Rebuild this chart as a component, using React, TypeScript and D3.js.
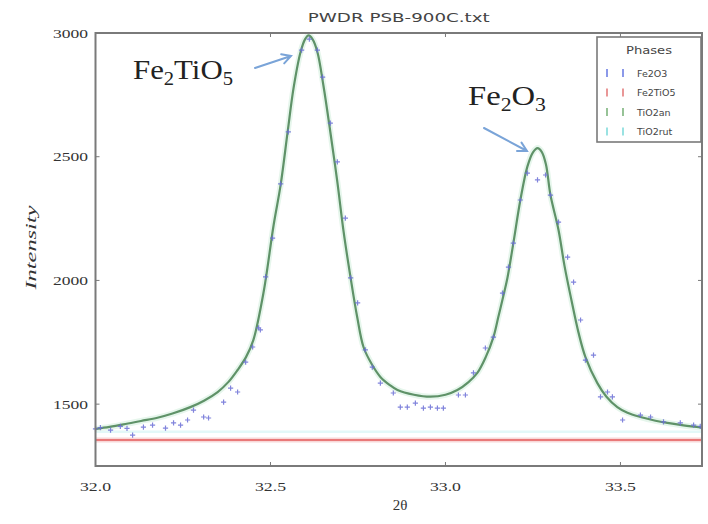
import React from "react";
import * as d3 from "d3";

// Calculated profile: [2θ, intensity]
const calcTheta = [
  32.0, 32.04, 32.08, 32.13, 32.177, 32.22, 32.271, 32.31, 32.349, 32.38, 32.406, 32.43,
  32.451, 32.48, 32.509, 32.529, 32.549, 32.566, 32.586, 32.599, 32.609, 32.62, 32.634,
  32.651, 32.671, 32.691, 32.709, 32.729, 32.748, 32.766, 32.79, 32.814, 32.84, 32.863,
  32.91, 32.957, 33.0, 33.034, 33.065, 33.091, 33.115, 33.137, 33.151, 33.165, 33.177,
  33.194, 33.214, 33.234, 33.25, 33.263, 33.275, 33.287, 33.3, 33.323, 33.34, 33.36,
  33.38, 33.4, 33.434, 33.46, 33.491, 33.52, 33.557, 33.6, 33.634, 33.68, 33.735,
];
const calcIntensity = [
  1400, 1408, 1418, 1432, 1445, 1462, 1488, 1514, 1549, 1590, 1638, 1690,
  1759, 1950, 2224, 2386, 2600, 2778, 2923, 2975, 2990, 2975, 2923,
  2790, 2600, 2398, 2196, 2010, 1850, 1730, 1660, 1610, 1578, 1557,
  1538, 1530, 1538, 1557, 1588, 1626, 1690, 1771, 1852, 1935, 2010,
  2151, 2325, 2460, 2518, 2535, 2520, 2470, 2345, 2204, 2060, 1920,
  1790, 1690, 1585, 1530, 1488, 1465, 1448, 1433, 1424, 1414, 1405,
];

// Observed counts: [2θ, intensity]
const obsTheta = [
  32.0, 32.014, 32.043, 32.071, 32.09, 32.106, 32.137, 32.163, 32.2, 32.223, 32.243,
  32.263, 32.28, 32.309, 32.323, 32.366, 32.386, 32.406, 32.429, 32.449, 32.466, 32.471,
  32.486, 32.506, 32.529, 32.551, 32.589, 32.611, 32.634, 32.649, 32.671, 32.691, 32.714,
  32.729, 32.749, 32.771, 32.791, 32.814, 32.851, 32.871, 32.891, 32.914, 32.937, 32.957,
  32.977, 32.994, 33.037, 33.057, 33.08, 33.114, 33.137, 33.163, 33.18, 33.194, 33.214,
  33.234, 33.263, 33.286, 33.3, 33.323, 33.349, 33.366, 33.386, 33.4, 33.423, 33.443,
  33.463, 33.477, 33.506, 33.557, 33.586, 33.623, 33.671, 33.709, 33.728,
];
const obsIntensity = [
  1400, 1405, 1395, 1410, 1402, 1375, 1407, 1415, 1403, 1424, 1415,
  1436, 1476, 1448, 1444, 1508, 1565, 1549, 1670, 1731, 1808, 1800,
  2014, 2171, 2390, 2600, 2931, 2975, 2931, 2822, 2636, 2479, 2252,
  2010, 1909, 1719, 1650, 1585, 1545, 1488, 1488, 1504, 1484, 1488,
  1484, 1484, 1537, 1537, 1626, 1727, 1771, 1949, 2054, 2151, 2325,
  2434, 2406, 2426, 2345, 2236, 2094, 1993, 1840, 1678, 1698, 1529,
  1549, 1529, 1436, 1456, 1448, 1428, 1424, 1415, 1410,
];

// Fitted background level and the faint reference level above it
const backgroundLevel = [1355];
const referenceLevel = [1388];

const xTicks = [32.0, 32.5, 33.0, 33.5];
const yTicks = [1500, 2000, 2500, 3000];

const phaseNames = ["Fe2O3", "Fe2TiO5", "TiO2an", "TiO2rut"];
const phaseColors = ["#5a6ee0", "#e06a6a", "#6aa96a", "#6fd6d6"];

const W = 708;
const H = 524;
const left = 95.5;
const right = 702;
const top = 33;
const bottom = 466;

export default function App() {
  const x = d3.scaleLinear().domain([32.0, 33.733]).range([left, right]);
  const y = d3.scaleLinear().domain([1250, 3000]).range([bottom, top]);

  const calc = calcTheta.map((t, i) => [t, calcIntensity[i]] as [number, number]);
  const obs = obsTheta.map((t, i) => [t, obsIntensity[i]] as [number, number]);

  const line = d3
    .line<[number, number]>()
    .x((d) => x(d[0]))
    .y((d) => y(d[1]))
    .curve(d3.curveCatmullRom.alpha(0.5));

  const plus = obs
    .map(([t, v]) => {
      const cx = x(t);
      const cy = y(v);
      const s = 2.6;
      return `M${cx - s},${cy}H${cx + s}M${cx},${cy - s}V${cy + s}`;
    })
    .join("");

  const frame = "#7a7a7a";
  const tickLen = 4;
  const serif = "'Liberation Serif', 'DejaVu Serif', serif";
  const sans = "'DejaVu Sans', 'Liberation Sans', sans-serif";

  const arrowHead = (x1: number, y1: number, x2: number, y2: number) => {
    const a = Math.atan2(y2 - y1, x2 - x1);
    const L = 10;
    const sp = 0.5;
    const p1 = [x2 - L * Math.cos(a - sp), y2 - L * Math.sin(a - sp)];
    const p2 = [x2 - L * Math.cos(a + sp), y2 - L * Math.sin(a + sp)];
    return `M${x1},${y1}L${x2},${y2}M${p1[0]},${p1[1]}L${x2},${y2}L${p2[0]},${p2[1]}`;
  };

  return (
    <div style={{ position: "fixed", left: 0, top: 0, width: W, height: H, background: "#fff" }}>
      <svg width={W} height={H} viewBox={`0 0 ${W} ${H}`} style={{ display: "block" }}>
        <rect x={0} y={0} width={W} height={H} fill="#fff" />

        {/* title */}
        <text
          x={(left + right) / 2}
          y={22}
          textAnchor="middle"
          fontFamily={sans}
          fontSize={13}
          fill="#444"
          textLength={182}
          lengthAdjust="spacingAndGlyphs"
        >
          PWDR PSB-900C.txt
        </text>

        {/* level lines */}
        {referenceLevel.map((v, i) => (
          <line key={"r" + i} x1={left} x2={right} y1={y(v)} y2={y(v)} stroke="#e3f8f8" strokeWidth={2.5} />
        ))}
        {backgroundLevel.map((v, i) => (
          <g key={"b" + i}>
            <line x1={left} x2={right} y1={y(v)} y2={y(v)} stroke="#f8d8d8" strokeWidth={5} />
            <line x1={left} x2={right} y1={y(v)} y2={y(v)} stroke="#e45a5a" strokeWidth={1.6} />
          </g>
        ))}

        {/* calculated profile */}
        <path d={line(calc) || ""} fill="none" stroke="#e6f6ec" strokeWidth={6} />
        <path d={line(calc) || ""} fill="none" stroke="#5f9268" strokeWidth={2.2} />

        {/* observed points */}
        <path d={plus} fill="none" stroke="#6b6fd6" strokeWidth={1.2} opacity={0.85} />

        {/* frame */}
        <rect x={left} y={top} width={right - left} height={bottom - top} fill="none" stroke={frame} strokeWidth={2} />

        {/* ticks and tick labels */}
        {xTicks.map((t) => (
          <g key={"x" + t}>
            <line x1={x(t)} x2={x(t)} y1={bottom} y2={bottom - tickLen} stroke={frame} strokeWidth={1} />
            <line x1={x(t)} x2={x(t)} y1={top} y2={top + tickLen} stroke={frame} strokeWidth={1} />
            <text
              x={x(t)}
              y={491}
              textAnchor="middle"
              fontFamily={serif}
              fontSize={13}
              fill="#333"
              textLength={31}
              lengthAdjust="spacingAndGlyphs"
            >
              {d3.format(".1f")(t)}
            </text>
          </g>
        ))}
        {yTicks.map((v) => (
          <g key={"y" + v}>
            <line x1={left} x2={left + tickLen} y1={y(v)} y2={y(v)} stroke={frame} strokeWidth={1} />
            <line x1={right} x2={right - tickLen} y1={y(v)} y2={y(v)} stroke={frame} strokeWidth={1} />
            <text
              x={88}
              y={y(v) + 4.5}
              textAnchor="end"
              fontFamily={serif}
              fontSize={13}
              fill="#333"
              textLength={35}
              lengthAdjust="spacingAndGlyphs"
            >
              {v}
            </text>
          </g>
        ))}

        {/* axis titles */}
        <text x={400} y={510} textAnchor="middle" fontFamily={serif} fontSize={15} fill="#333">
          2θ
        </text>
        <text
          transform={`translate(36,${(top + bottom) / 2 - 2}) rotate(-90)`}
          textAnchor="middle"
          fontFamily={serif}
          fontStyle="italic"
          fontSize={15}
          fill="#333"
          textLength={84}
          lengthAdjust="spacingAndGlyphs"
        >
          Intensity
        </text>

        {/* legend */}
        <rect x={597} y={37} width={104} height={105} fill="#fff" stroke={frame} strokeWidth={1.6} />
        <text
          x={649}
          y={54}
          textAnchor="middle"
          fontFamily={sans}
          fontSize={10}
          fill="#444"
          textLength={46}
          lengthAdjust="spacingAndGlyphs"
        >
          Phases
        </text>
        {phaseNames.map((name, i) => {
          const ry = 74 + i * 19.5;
          return (
            <g key={name}>
              <line x1={607} x2={607} y1={ry - 5} y2={ry + 3} stroke={phaseColors[i]} strokeWidth={1.4} />
              <line x1={623} x2={623} y1={ry - 5} y2={ry + 3} stroke={phaseColors[i]} strokeWidth={1.4} />
              <text x={637} y={ry + 2.5} fontFamily={sans} fontSize={9.5} fill="#444">
                {name}
              </text>
            </g>
          );
        })}

        {/* phase annotations */}
        <text x={133} y={79} fontFamily={serif} fontSize={27} fill="#222" textLength={100} lengthAdjust="spacingAndGlyphs">
          Fe
          <tspan fontSize={18} dy={6}>2</tspan>
          <tspan dy={-6}>TiO</tspan>
          <tspan fontSize={18} dy={6}>5</tspan>
        </text>
        <path d={arrowHead(255, 68, 291, 56)} fill="none" stroke="#7aa4d8" strokeWidth={2} strokeLinecap="round" />

        <text x={468} y={105} fontFamily={serif} fontSize={27} fill="#222" textLength={78} lengthAdjust="spacingAndGlyphs">
          Fe
          <tspan fontSize={18} dy={6}>2</tspan>
          <tspan dy={-6}>O</tspan>
          <tspan fontSize={18} dy={6}>3</tspan>
        </text>
        <path d={arrowHead(484, 128, 527, 151)} fill="none" stroke="#7aa4d8" strokeWidth={2} strokeLinecap="round" />
      </svg>
    </div>
  );
}
